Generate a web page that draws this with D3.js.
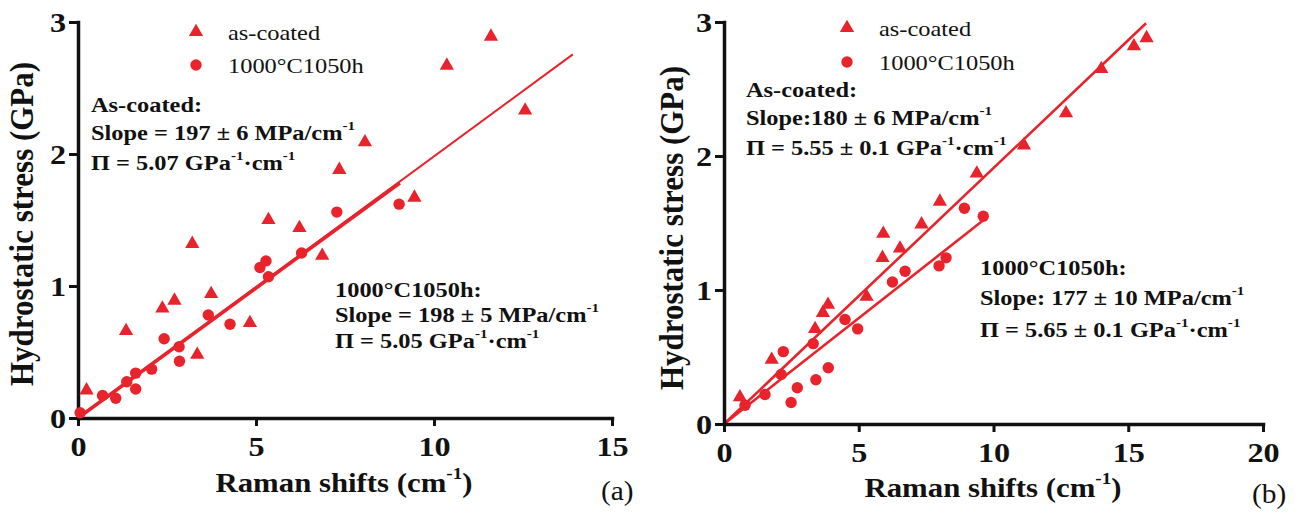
<!DOCTYPE html>
<html>
<head>
<meta charset="utf-8">
<script src="https://cdn.jsdelivr.net/npm/d3@7"></script>
<style>
  html, body { margin: 0; padding: 0; background: #fff; }
  svg { display: block; }
</style>
</head>
<body>
<svg id="chart" width="1307" height="520"></svg>
<script>
// ---------------- DATA ----------------
const yTicks = [0, 1, 2, 3];
const xTicksA = [0, 5, 10, 15];
const xTicksB = [0, 5, 10, 15, 20];

// Panel (a)
const asCoatedA_x = [0.24, 1.35, 2.37, 2.71, 3.21, 3.35, 3.74, 4.83, 5.35, 6.22, 6.86, 7.34, 8.06, 9.45, 10.36, 11.6, 12.56];
const asCoatedA_y = [0.21, 0.66, 0.83, 0.89, 1.32, 0.48, 0.94, 0.72, 1.50, 1.44, 1.23, 1.88, 2.09, 1.67, 2.67, 2.89, 2.33];
const annealedA_x = [0.06, 0.69, 1.06, 1.37, 1.62, 1.62, 2.07, 2.42, 2.84, 2.85, 3.66, 4.27, 5.11, 5.28, 5.35, 6.28, 7.27, 9.02];
const annealedA_y = [0.04, 0.17, 0.15, 0.275, 0.34, 0.22, 0.37, 0.60, 0.54, 0.43, 0.78, 0.71, 1.14, 1.19, 1.07, 1.25, 1.56, 1.62];
// linear fits through origin: [as-coated, 1000°C1050h]
const fitSlopeA = [0.1982, 0.197];
const fitXEndA = [13.9, 9.04];

// Panel (b)
const asCoatedB_x = [0.59, 1.77, 3.38, 3.67, 3.86, 5.29, 5.88, 5.91, 6.53, 7.33, 8.01, 9.38, 11.13, 12.69, 14.0, 15.21, 15.68];
const asCoatedB_y = [0.20, 0.48, 0.71, 0.83, 0.89, 0.95, 1.24, 1.42, 1.31, 1.49, 1.66, 1.87, 2.08, 2.32, 2.65, 2.82, 2.88];
const annealedB_x = [0.78, 1.52, 2.12, 2.20, 2.49, 2.72, 3.31, 3.41, 3.87, 4.49, 4.96, 6.25, 6.72, 7.98, 8.24, 8.92, 9.62];
const annealedB_y = [0.14, 0.22, 0.37, 0.54, 0.16, 0.27, 0.60, 0.33, 0.42, 0.78, 0.71, 1.06, 1.14, 1.18, 1.24, 1.61, 1.55];
const fitSlopeB = [0.191, 0.158];
const fitXEndB = [15.66, 9.62];

const legendLabels = ["as-coated", "1000°C1050h"];
const xTitle = "Raman shifts (cm";
const yTitle = "Hydrostatic stress (GPa)";

// ---------------- DRAW ----------------
const RED = "#e8232b";
const INK = "#111";
const FONT = "'Liberation Serif', 'Times New Roman', serif";
const SX = 1.15; // horizontal stretch of the original figure's text

const svg = d3.select("#chart");
svg.append("rect").attr("width", 1307).attr("height", 520).attr("fill", "#fff");

function stext(parent, x, y, parts, opt) {
  const size = opt.size, sx = opt.sx || SX;
  const g = parent.append("g").attr("transform", `translate(${x},${y}) scale(${sx},1)` + (opt.rotate ? ` rotate(${opt.rotate})` : ""));
  const t = g.append("text")
    .attr("font-family", FONT)
    .attr("font-size", size)
    .attr("font-weight", opt.weight || "normal")
    .attr("text-anchor", opt.anchor || "start")
    .attr("fill", INK);
  let up = false;
  const sh = size * 0.48;
  parts.forEach(p => {
    const sup = Array.isArray(p);
    const ts = t.append("tspan").text(sup ? p[0] : p);
    if (sup) {
      ts.attr("font-size", size * 0.62);
      if (!up) { ts.attr("dy", -sh); up = true; }
    } else if (up) { ts.attr("dy", sh); up = false; }
  });
  return g;
}

function panel(cfg) {
  const x = d3.scaleLinear().domain([0, cfg.xMax]).range(cfg.xRange);
  const y = d3.scaleLinear().domain([0, 3]).range(cfg.yRange);
  const g = svg.append("g");

  // fit lines
  cfg.fitSlope.forEach((s, i) => {
    g.append("path")
      .datum([0, cfg.fitXEnd[i]])
      .attr("d", d3.line().x(d => x(d)).y(d => y(s * d)))
      .attr("stroke", RED)
      .attr("stroke-width", cfg.fitWidth[i])
      .attr("fill", "none");
  });

  // axes
  const ax = g.append("g").attr("transform", `translate(0,${y(0)})`)
    .call(d3.axisBottom(x).tickValues(cfg.xTicks).tickSize(8).tickSizeOuter(0));
  const ay = g.append("g").attr("transform", `translate(${x(0)},0)`)
    .call(d3.axisLeft(y).tickValues(yTicks).tickSize(9).tickSizeOuter(0).tickFormat(d3.format("d")));
  [ax, ay].forEach(a => {
    a.select(".domain").attr("stroke", INK).attr("stroke-width", 3.5).attr("stroke-linecap", "square");
    a.selectAll(".tick line").attr("stroke", INK).attr("stroke-width", 3);
    a.selectAll(".tick text")
      .attr("font-family", FONT).attr("font-size", 28).attr("font-weight", "bold").attr("fill", INK);
  });
  ax.selectAll(".tick text").attr("y", 38).attr("dy", null).attr("transform", `scale(${SX},1)`);
  ay.selectAll(".tick text").attr("x", -12 / SX).attr("dy", "0.34em").attr("transform", `scale(${SX},1)`);

  // markers
  const tri = d3.symbol().type(d3.symbolTriangle).size(88);
  g.append("g").selectAll("path").data(cfg.asX)
    .join("path")
    .attr("d", tri)
    .attr("transform", (d, i) => `translate(${x(d)},${y(cfg.asY[i])})`)
    .attr("fill", RED);
  g.append("g").selectAll("circle").data(cfg.anX)
    .join("circle")
    .attr("cx", d => x(d))
    .attr("cy", (d, i) => y(cfg.anY[i]))
    .attr("r", 5.7)
    .attr("fill", RED);

  // legend
  g.append("path").attr("d", tri).attr("fill", RED)
    .attr("transform", `translate(${cfg.legX},${cfg.legY[0]})`);
  g.append("circle").attr("cx", cfg.legX).attr("cy", cfg.legY[1]).attr("r", 5.7).attr("fill", RED);
  legendLabels.forEach((l, i) => {
    stext(g, cfg.legX + 32, cfg.legY[i] + 8, [l], { size: 20, sx: 1.22 });
  });

  // axis titles
  stext(g, cfg.xTitlePos[0], cfg.xTitlePos[1], [xTitle, ["-1"], ")"], { size: 28, weight: "bold", anchor: "middle", sx: 1.1 });
  stext(g, cfg.yTitlePos[0], cfg.yTitlePos[1], [yTitle], { size: 31, weight: "bold", anchor: "middle", sx: 1.12, rotate: -90 });

  // annotations
  cfg.notes.forEach(n => {
    n.lines.forEach((ln, j) => {
      stext(g, n.x, n.ys[j], ln, { size: 20, weight: "bold", sx: 1.22 });
    });
  });

  // panel letter
  stext(g, cfg.letterPos[0], cfg.letterPos[1], [cfg.letter], { size: 28, sx: 1.05 });
}

panel({
  xMax: 15, xRange: [78, 612], yRange: [418, 22], xTicks: xTicksA,
  asX: asCoatedA_x, asY: asCoatedA_y, anX: annealedA_x, anY: annealedA_y,
  fitSlope: fitSlopeA, fitXEnd: fitXEndA, fitWidth: [2, 3.6],
  legX: 196, legY: [32, 65],
  xTitlePos: [344, 492], yTitlePos: [33, 224],
  notes: [
    { x: 91, ys: [112, 140, 170], lines: [
      ["As-coated:"],
      ["Slope = 197 ± 6 MPa/cm", ["-1"]],
      ["Π = 5.07 GPa", ["-1"], "·cm", ["-1"]]
    ]},
    { x: 335, ys: [297, 322, 348], lines: [
      ["1000°C1050h:"],
      ["Slope = 198 ± 5 MPa/cm", ["-1"]],
      ["Π = 5.05 GPa", ["-1"], "·cm", ["-1"]]
    ]}
  ],
  letter: "(a)", letterPos: [601, 500]
});

panel({
  xMax: 20, xRange: [724, 1263], yRange: [424, 22], xTicks: xTicksB,
  asX: asCoatedB_x, asY: asCoatedB_y, anX: annealedB_x, anY: annealedB_y,
  fitSlope: fitSlopeB, fitXEnd: fitXEndB, fitWidth: [2.6, 2.6],
  legX: 847, legY: [28, 62],
  xTitlePos: [993, 497], yTitlePos: [683, 228],
  notes: [
    { x: 746, ys: [97, 125, 155], lines: [
      ["As-coated:"],
      ["Slope:180 ± 6 MPa/cm", ["-1"]],
      ["Π = 5.55 ± 0.1 GPa", ["-1"], "·cm", ["-1"]]
    ]},
    { x: 980, ys: [275, 305, 337], lines: [
      ["1000°C1050h:"],
      ["Slope: 177 ± 10 MPa/cm", ["-1"]],
      ["Π = 5.65 ± 0.1 GPa", ["-1"], "·cm", ["-1"]]
    ]}
  ],
  letter: "(b)", letterPos: [1252, 503]
});
</script>
</body>
</html>
